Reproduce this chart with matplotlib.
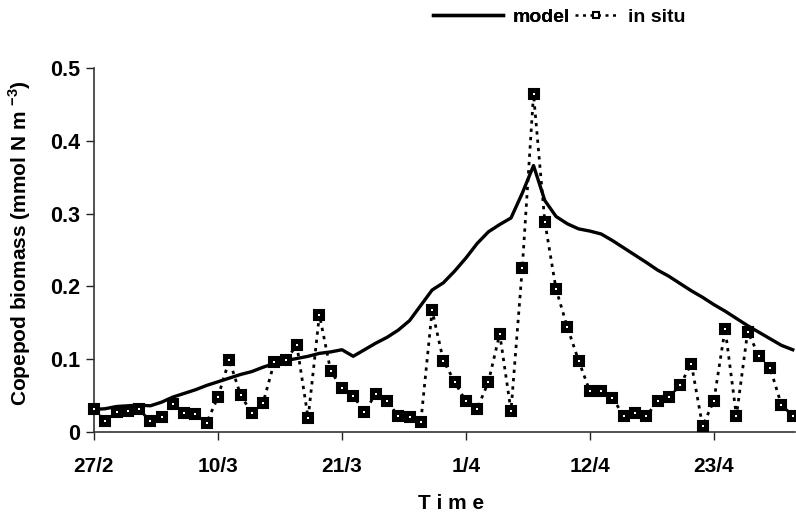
import matplotlib
matplotlib.use("Agg")
import matplotlib.pyplot as plt

plt.rcParams['font.family'] = ['Liberation Sans', 'DejaVu Sans']
plt.rcParams['font.weight'] = 'bold'
plt.rcParams['mathtext.fontset'] = 'custom'
plt.rcParams['mathtext.rm'] = 'Liberation Sans:bold'
plt.rcParams['mathtext.bf'] = 'Liberation Sans:bold'

# days since 27 Feb, daily samples
days = list(range(63))

model = [0.031, 0.032, 0.035, 0.036, 0.037, 0.036, 0.041, 0.048, 0.053, 0.058,
         0.064, 0.069, 0.074, 0.079, 0.083, 0.089, 0.094, 0.098, 0.101, 0.104,
         0.108, 0.110, 0.113, 0.104, 0.113, 0.122, 0.130, 0.140, 0.153, 0.174,
         0.195, 0.205, 0.221, 0.239, 0.259, 0.275, 0.285, 0.294, 0.328, 0.366,
         0.318, 0.296, 0.286, 0.279, 0.276, 0.272, 0.263, 0.253, 0.243, 0.233,
         0.2225, 0.214, 0.204, 0.194, 0.185, 0.175, 0.166, 0.156, 0.146, 0.137,
         0.128, 0.119, 0.113]

in_situ = [0.031, 0.0155, 0.027, 0.029, 0.031, 0.015, 0.021, 0.039, 0.026, 0.025,
           0.013, 0.048, 0.099, 0.051, 0.026, 0.040, 0.096, 0.099, 0.119, 0.019,
           0.161, 0.084, 0.060, 0.0495, 0.028, 0.052, 0.042, 0.022, 0.020, 0.014,
           0.167, 0.098, 0.069, 0.042, 0.032, 0.069, 0.135, 0.029, 0.225, 0.464,
           0.289, 0.196, 0.144, 0.098, 0.056, 0.057, 0.047, 0.022, 0.0266, 0.022,
           0.042, 0.048, 0.064, 0.094, 0.008, 0.043, 0.142, 0.022, 0.138, 0.1045,
           0.0875, 0.037, 0.0225]

tick_days = [0, 11, 22, 33, 44, 55]
tick_labels = ['27/2', '10/3', '21/3', '1/4', '12/4', '23/4']
y_ticks = [0, 0.1, 0.2, 0.3, 0.4, 0.5]
y_labels = ['0', '0.1', '0.2', '0.3', '0.4', '0.5']

fig = plt.figure(figsize=(7.96, 5.13), dpi=100)
ax = fig.add_axes([94 / 796, 81 / 513, 701 / 796, 364 / 513])

model_line, = ax.plot(days, model, color='black', lw=2.4, clip_on=False, zorder=3)
situ_line, = ax.plot(days, in_situ, color='black', lw=2, linestyle=(0, (1.2, 1.8)),
                     marker='s', markersize=6.5, markerfacecolor='black',
                     markeredgecolor='black', markeredgewidth=1.5,
                     clip_on=False, zorder=4)
# small light fleck inside each square, as in the scanned original
ax.plot(days, in_situ, linestyle='none', marker='s', markersize=1.6,
        markerfacecolor='white', markeredgewidth=0, clip_on=False, zorder=5)

ax.set_xlim(0, 62.2)
ax.set_ylim(0, 0.5)
ax.set_xticks(tick_days)
ax.set_xticklabels(tick_labels, fontsize=15, fontweight='bold')
ax.set_yticks(y_ticks)
ax.set_yticklabels(y_labels, fontsize=15.5, fontweight='bold')
ax.tick_params(axis='x', direction='out', length=6, width=1, pad=12, colors='#222222')
ax.tick_params(axis='y', direction='out', length=6, width=1, pad=4, colors='#222222')
for lab in ax.get_xticklabels() + ax.get_yticklabels():
    lab.set_color('black')

for s in ['top', 'right']:
    ax.spines[s].set_visible(False)
for s in ['left', 'bottom']:
    ax.spines[s].set_linewidth(1.2)
    ax.spines[s].set_color('#333333')

ax.set_xlabel('T i m e', fontsize=15, fontweight='bold')
ax.xaxis.set_label_coords(0.51, -0.17)
ax.set_ylabel(r'Copepod biomass (mmol N m $^{-3}$)', fontsize=15, fontweight='bold')
ax.yaxis.set_label_coords(-0.087, 0.52)

leg1 = fig.legend([model_line], ['model'], loc='center',
                  bbox_to_anchor=(501 / 796, 1 - 17 / 513), frameon=False,
                  handlelength=3.6, handletextpad=0.5,
                  prop={'weight': 'bold', 'size': 14})
leg2 = fig.legend([situ_line], ['in situ'], loc='center',
                  bbox_to_anchor=(630 / 796, 1 - 17 / 513), frameon=False,
                  handlelength=2.2, handletextpad=0.5, markerscale=0.6,
                  prop={'weight': 'bold', 'size': 14})
for h in leg2.legend_handles:
    h.set_markerfacecolor('white')
    h.set_linewidth(1.8)
fig.add_artist(leg1)

fig.savefig('out.png', dpi=100)
